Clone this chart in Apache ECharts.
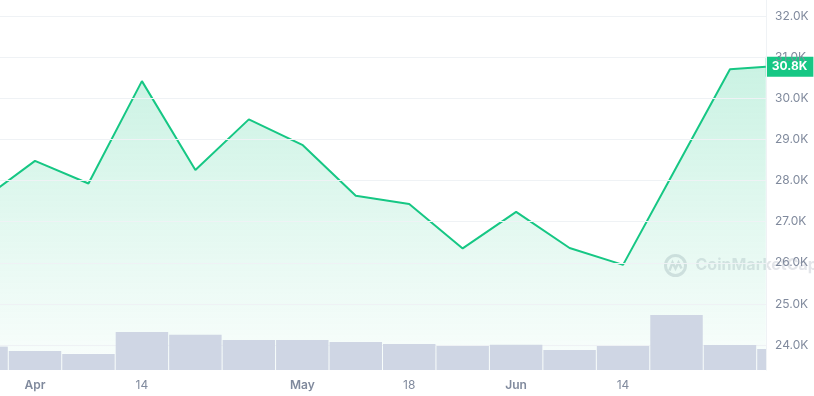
<!DOCTYPE html>
<html><head><meta charset="utf-8">
<script src="https://cdn.jsdelivr.net/npm/echarts@6/dist/echarts.min.js"></script>
<style>html,body{margin:0;padding:0;background:#fff}#c{width:814px;height:396px}</style>
</head><body><div id="c"></div>
<script>
// week positions (index of weekly sample; last one is the partial current week)
const pricePos = [0,1,2,3,4,5,6,7,8,9,10,11,12,13,14,14.67];
const priceK   = [27.52,28.48,27.93,30.42,28.26,29.49,28.87,27.63,27.43,26.35,27.24,26.36,25.95,28.33,30.71,30.77];
const volPos   = [0,1,2,3,4,5,6,7,8,9,10,11,12,13,14,15];
const volumeB  = [11.7,9.5,8.0,19.0,17.6,15.0,15.0,14.0,13.0,12.0,12.6,10.0,12.0,27.5,12.5,10.5];
const tickPos  = [1,3,6,8,10,12];
const tickText = ['Apr','14','May','18','Jun','14'];
const monthNames = ['Apr','May','Jun'];
const priceTicks = [24,25,26,27,28,29,30,31,32];
const lastLabel = '30.8K';

const chart = echarts.init(document.getElementById('c'), null, {renderer:'canvas'});
const green = '#16c784';
chart.setOption({
  animation:false,
  textStyle:{fontFamily:'Inter'},
  grid:{left:0,right:48,top:0,bottom:26},
  xAxis:{
    type:'value', min:0.3453, max:14.674,
    axisLine:{show:false},
    axisTick:{show:false, customValues:tickPos},
    splitLine:{show:false},
    axisLabel:{
      customValues:tickPos, margin:9, fontSize:12, color:'#808a9d',
      formatter:function(v){
        const i = tickPos.indexOf(Math.round(v));
        const t = i>=0 ? tickText[i] : '';
        return monthNames.indexOf(t)>=0 ? '{b|'+t+'}' : t;
      },
      rich:{b:{fontWeight:600,fontSize:12,color:'#808a9d',fontFamily:'Inter'}}
    }
  },
  yAxis:[{
    type:'value', position:'right', min:23.392, max:32.394, z:3,
    axisLine:{show:true,lineStyle:{color:'#eff2f5',width:1}},
    axisTick:{show:false, customValues:priceTicks},
    splitLine:{show:true,lineStyle:{color:'#eff2f5',width:1}},
    axisLabel:{customValues:priceTicks, margin:9, fontSize:12, color:'#808a9d',
      formatter:function(v){return v.toFixed(1)+'K';}}
  },{
    type:'value', min:0, max:185, show:false,
    splitLine:{show:false}
  }],
  series:[{
    type:'line', z:2, yAxisIndex:0,
    data: pricePos.map((x,i)=>[x,priceK[i]]),
    symbol:'none', lineStyle:{color:green,width:2},
    areaStyle:{color:new echarts.graphic.LinearGradient(0,0,0,1,[
      {offset:0,color:'rgba(22,199,132,0.32)'},
      {offset:1,color:'rgba(22,199,132,0.03)'}])},
    endLabel:{show:true, formatter:lastLabel, distance:0,
      backgroundColor:green, color:'#fff', fontWeight:'bold', fontSize:12,
      fontFamily:'Inter', padding:[3,6,3,6], lineHeight:14}
  },{
    type:'custom', z:4, yAxisIndex:1, clip:true,
    data: volPos.map((x,i)=>[x,volumeB[i]]),
    renderItem:function(params, api){
      const c = api.coord([api.value(0), api.value(1)]);
      const b = api.coord([api.value(0), 0]);
      const w = api.size([1,0])[0] - 1;
      const area = params.coordSys;
      const rect = echarts.graphic.clipRectByRect({x:c[0]-w/2, y:c[1], width:w, height:b[1]-c[1]},
        {x:area.x, y:area.y, width:area.width, height:area.height});
      return rect && {type:'rect', shape:rect, style:{fill:'#cfd6e4'}};
    }
  }],
  graphic:[{
    type:'group', left:663, top:253, z:10, silent:true,
    children:[
      {type:'circle', shape:{cx:12,cy:12,r:10}, style:{fill:'none',stroke:'rgba(128,138,157,0.25)',lineWidth:3}},
      {type:'polyline', shape:{points:[[6,17],[9,9],[12,15],[15,9],[18,15]]}, style:{fill:'none',stroke:'rgba(128,138,157,0.25)',lineWidth:2.5}},
      {type:'text', x:32, y:12, style:{text:'CoinMarketCap', fill:'rgba(128,138,157,0.22)', font:'bold 16px Inter', verticalAlign:'middle'}}
    ]
  }]
});
</script></body></html>
